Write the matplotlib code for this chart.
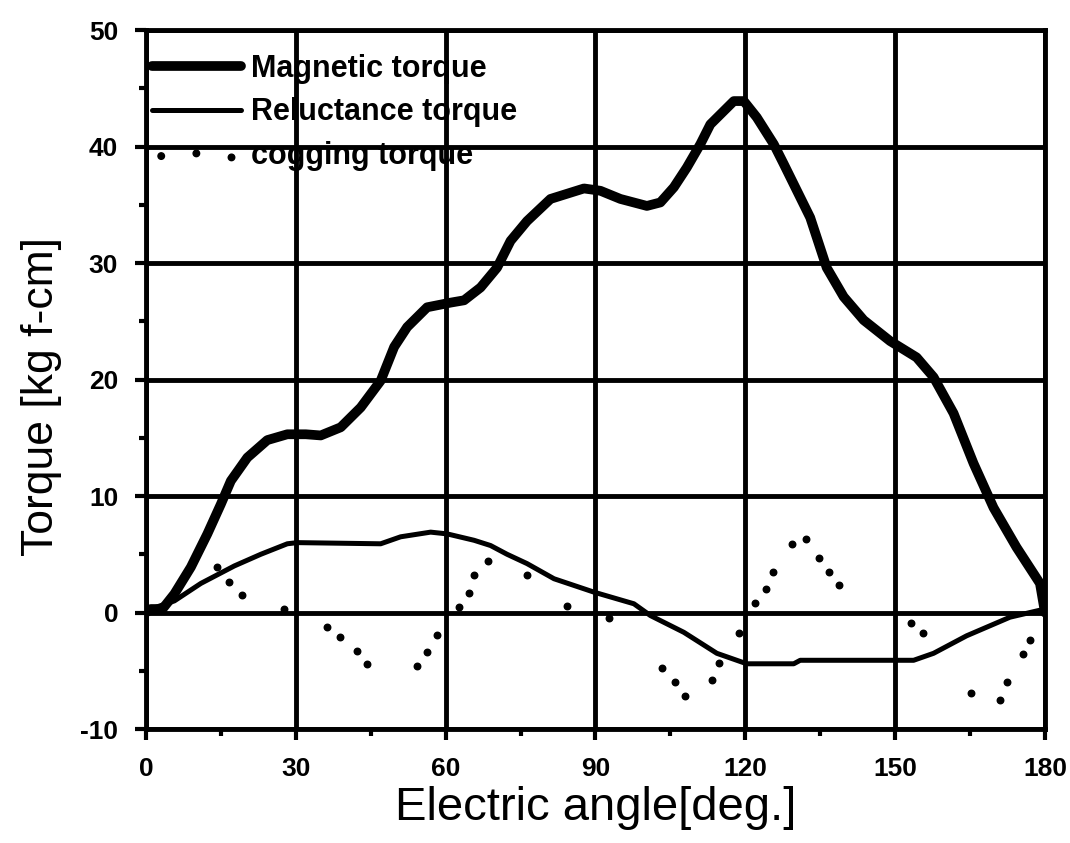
import numpy as np
import matplotlib.pyplot as plt
from matplotlib.ticker import MultipleLocator

plt.rcParams['font.family'] = ['Liberation Sans', 'DejaVu Sans']
plt.rcParams['axes.unicode_minus'] = False

# Magnetic torque (thick line)
mag_angle = [0, 1, 3.3, 5.7, 9, 12.3, 15, 17, 20.3, 24.3, 28.3, 32, 35, 39, 43, 47, 49.7,
             52.3, 56.3, 61, 63.7, 67, 70.3, 73, 76.3, 81, 87.7, 91, 95, 100.3, 103,
             105.7, 108.3, 111, 113, 117.7, 119.7, 122.3, 125.7, 127.7, 133, 136.3,
             139.7, 143.7, 149, 154.3, 157.7, 161.7, 165.7, 169.7, 174.3, 179, 180]
mag_torque = [0, 0.3, 0.3, 1.6, 3.9, 6.75, 9.3, 11.3, 13.3, 14.8, 15.3, 15.3, 15.2, 15.9,
              17.6, 19.9, 22.8, 24.5, 26.2, 26.6, 26.8, 27.9, 29.6, 31.9, 33.6, 35.5,
              36.4, 36.2, 35.5, 34.9, 35.2, 36.5, 38.2, 40.2, 41.9, 43.9, 43.9, 42.5,
              40.2, 38.5, 33.9, 29.6, 27.1, 25.1, 23.3, 21.9, 20.2, 17.1, 12.8, 9.0,
              5.6, 2.5, 0]

# Reluctance torque (thin line)
rel_angle = [0, 1, 5.7, 11, 17.7, 23, 28.3, 30.3, 47, 51, 57, 60.3, 65.7, 69, 72.3,
             76.3, 81.7, 89.7, 97.7, 101, 107.7, 114.3, 120.3, 129.7, 131, 153.7,
             157.7, 164.3, 173, 179, 180]
rel_torque = [0, 0.3, 1.0, 2.5, 4.0, 5.0, 5.9, 6.0, 5.9, 6.5, 6.9, 6.75, 6.2, 5.75, 5.0,
              4.2, 2.9, 1.75, 0.75, -0.26, -1.7, -3.5, -4.4, -4.4, -4.1, -4.1, -3.5,
              -2.0, -0.4, 0.2, 0]

# Cogging torque (dots)
cog_angle = [14.2, 16.7, 19.3, 27.7, 36.3, 38.9, 42.3, 44.3, 54.2, 56.2, 58.2, 62.7,
             64.7, 65.7, 68.5, 76.3, 84.3, 92.7, 103.3, 106, 108, 113.3, 114.7, 118.7,
             122, 124.2, 125.5, 129.4, 132.2, 134.7, 136.7, 138.7, 153.1, 155.5, 165.1,
             171, 172.3, 175.7, 177]
cog_torque = [3.9, 2.66, 1.5, 0.3, -1.2, -2.06, -3.26, -4.46, -4.6, -3.4, -1.9, 0.5,
              1.7, 3.2, 4.4, 3.2, 0.6, -0.5, -4.8, -6.0, -7.2, -5.8, -4.3, -1.8, 0.8,
              2.0, 3.5, 5.9, 6.3, 4.7, 3.5, 2.4, -0.9, -1.8, -6.9, -7.55, -6.0, -3.6,
              -2.4]

fig = plt.figure(figsize=(10.7, 8.43), dpi=100)
ax = fig.add_axes([0.1364, 0.1352, 0.8402, 0.8292])

ax.plot(mag_angle, mag_torque, color='black', lw=7, solid_capstyle='round',
        solid_joinstyle='round', label='Magnetic torque', zorder=4)
ax.plot(rel_angle, rel_torque, color='black', lw=3.6, solid_capstyle='round',
        solid_joinstyle='round', label='Reluctance torque', zorder=4)
ax.scatter(cog_angle, cog_torque, s=22, color='black', label='cogging torque', zorder=4)

ax.set_xlim(0, 180)
ax.set_ylim(-10, 50)
ax.xaxis.set_major_locator(MultipleLocator(30))
ax.xaxis.set_minor_locator(MultipleLocator(15))
ax.yaxis.set_major_locator(MultipleLocator(10))
ax.yaxis.set_minor_locator(MultipleLocator(5))

ax.grid(which='major', color='black', lw=3.5)
ax.set_axisbelow(True)
for s in ax.spines.values():
    s.set_linewidth(3.5)

ax.tick_params(which='major', direction='out', length=8, width=3, labelsize=19, pad=12)
ax.tick_params(which='minor', direction='out', length=5, width=3)
for lab in ax.get_xticklabels() + ax.get_yticklabels():
    lab.set_fontweight('bold')

ax.set_xlabel('Electric angle[deg.]', fontsize=34, labelpad=4)
ax.set_ylabel('Torque [kg f-cm]', fontsize=32)
ax.yaxis.set_label_coords(-0.093, 0.476)

leg = ax.legend(loc='upper left', bbox_to_anchor=(0.0, 0.975), frameon=False,
                scatterpoints=3, handlelength=2.9, prop={'weight': 'bold', 'size': 22},
                borderpad=0.1, borderaxespad=0.1, labelspacing=0.45, handletextpad=0.35)

plt.savefig('out.png', dpi=100)
